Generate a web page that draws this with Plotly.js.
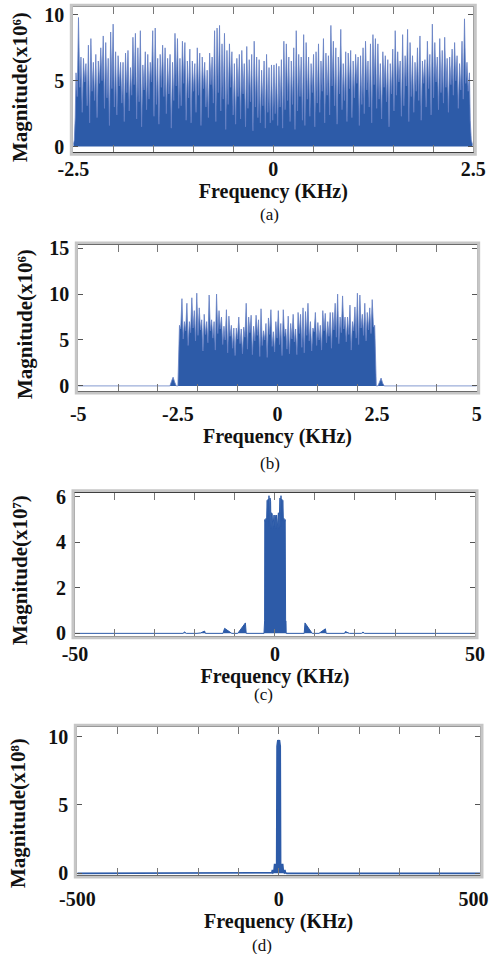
<!DOCTYPE html>
<html><head><meta charset="utf-8">
<script src="https://cdn.plot.ly/plotly-3.0.1.min.js"></script>
<style>html,body{margin:0;padding:0;background:#fff}#chart{width:493px;height:954px}</style>
</head><body><div id="chart"></div>
<script>
// ---------- Panel (a): baseband spectrum, x10^6 ----------
const aLeadFreq = [-2.5, -2.488, -2.476];
const aLeadMag  = [0.15, 0.5, 2.2];
const aBandRange = [-2.466, 2.452];
const aPeaks = [5.6, 9.8, 6.8, 6.7, 6.3, 7.7, 8.2, 6.4, 7.0, 6.5,
  7.5, 8.4, 7.9, 6.7, 8.7, 9.3, 7.2, 6.9, 6.4, 6.4,
  7.1, 7.3, 6.0, 8.3, 8.6, 7.5, 8.8, 6.2, 7.2, 7.0,
  6.4, 8.8, 9.0, 6.7, 7.0, 7.7, 7.5, 6.7, 7.0, 6.4,
  8.6, 8.2, 6.7, 8.0, 7.9, 6.5, 7.4, 6.5, 6.3, 7.5,
  7.1, 6.8, 6.4, 5.8, 7.1, 6.8, 8.8, 9.0, 9.2, 7.8,
  8.6, 7.3, 7.8, 7.2, 6.3, 6.7, 7.0, 7.3, 6.3, 7.6,
  6.6, 7.0, 8.0, 6.8, 6.6, 5.8, 6.5, 7.0, 6.0, 6.2,
  6.2,
  6.3, 6.1, 6.6, 8.0, 7.8, 6.8, 6.5, 7.5, 8.8, 7.0,
  6.8, 8.5, 7.9, 6.8, 6.3, 7.0, 7.2, 7.8, 6.5, 8.2,
  7.1, 6.9, 9.2, 8.0, 7.5, 6.8, 8.9, 6.3, 7.2, 7.1,
  7.3, 6.5, 7.0, 6.8, 6.9, 7.5, 8.0, 6.5, 7.8, 8.5,
  8.2, 7.8, 6.3, 7.2, 6.9, 6.6, 6.3, 7.4, 8.8, 7.2,
  6.5, 8.5, 6.9, 8.9, 7.9, 6.9, 6.4, 7.5, 8.4, 6.5,
  6.6, 8.0, 7.0, 9.3, 7.9, 6.8, 8.2, 7.3, 8.3, 6.7,
  6.8, 7.4, 7.9, 6.9, 6.3, 8.0, 9.7, 6.4, 5.6];
const aTroughs = [3.8, 4.5, 2.6, 4.9, 3.1, 1.8, 4.2, 3.5, 2.2, 4.8,
  5.0, 2.9, 3.7, 1.6, 4.4, 3.0, 2.4, 4.6, 3.3, 1.9,
  4.1, 2.7, 3.9, 4.7, 2.1, 3.4, 1.5, 4.3, 2.8, 3.6,
  4.9, 2.3, 3.2, 1.7, 4.5, 3.8, 2.5, 4.0, 1.4, 3.5,
  4.6, 2.9, 3.1, 4.8, 2.0, 3.7, 1.8, 4.2, 2.6, 3.9,
  1.6, 4.4, 3.0, 2.2, 4.7, 3.3, 1.9, 4.1, 2.7, 3.6,
  1.3, 3.2, 4.5, 2.4, 1.7, 3.8, 2.1, 4.0, 1.5, 2.9,
  3.4, 1.2, 3.0, 2.2, 1.8, 3.1, 1.4, 2.6, 1.8, 2.0,
  2.5, 1.6, 3.0, 1.4, 2.8, 3.5, 1.9, 3.2, 1.3, 2.7,
  3.8, 2.0, 1.6, 3.6, 2.3, 4.1, 1.5, 3.3, 2.6, 4.2,
  1.8, 3.9, 2.4, 4.6, 3.1, 1.7, 4.0, 2.8, 3.5, 1.9,
  4.4, 2.2, 3.7, 4.8, 1.6, 3.2, 2.5, 4.3, 3.0, 1.8,
  4.7, 2.9, 3.6, 2.1, 4.5, 3.4, 1.5, 4.0, 2.7, 3.9,
  4.9, 2.3, 3.1, 4.6, 1.9, 3.8, 2.6, 4.2, 3.5, 2.0,
  4.8, 3.0, 4.4, 2.4, 3.7, 4.9, 2.8, 4.1, 3.3, 4.5,
  2.6, 4.7, 3.9, 5.0, 2.9, 4.3, 3.6, 4.8, 4.2];
const aTailFreq = [2.462, 2.475, 2.49];
const aTailMag  = [2.0, 0.5, 0.15];

// ---------- Panel (b): spectrum x10^6, wider span ----------
const bLeadFreq = [-5, -2.7, -2.66, -2.62, -2.58, -2.54, -2.5];
const bLeadMag  = [0, 0, 0.5, 0.95, 0.4, 0, 0];
const bBandRange = [-2.46, 2.44];
const bPeaks = [6.6, 9.5, 7.0, 9.0, 7.0, 9.6, 8.2, 10.1, 8.5, 7.2,
  7.8, 7.0, 9.9, 7.2, 7.0, 10.0, 8.2, 7.5, 6.5, 8.3,
  7.6, 6.6, 6.3, 6.3, 7.5, 6.2, 6.4, 9.0, 7.5, 7.7,
  6.5, 7.7, 7.2, 8.4, 6.0, 6.8, 7.4, 8.3, 5.9, 7.0,
  8.2, 6.8, 8.3, 6.2, 7.6, 6.8, 7.8, 6.2, 8.0, 7.8,
  8.5, 8.1, 9.0, 7.0, 6.3, 8.0, 6.9, 6.6, 8.2, 7.9,
  7.0, 8.0, 8.0, 9.0, 10.0, 7.5, 9.8, 7.5, 7.5, 8.8,
  7.0, 8.6, 10.1, 9.9, 7.8, 9.0, 8.0, 8.5, 9.4, 6.6];
const bTroughs = [6.2, 5.1, 6.0, 4.4, 5.8, 6.3, 4.9, 5.5, 6.1, 3.8,
  5.6, 4.7, 6.0, 5.2, 3.9, 5.7, 6.2, 4.5, 5.0, 3.6,
  5.4, 4.1, 3.3, 5.1, 4.6, 3.5, 5.3, 4.0, 5.8, 3.4,
  4.9, 5.5, 3.2, 4.4, 5.0, 3.1, 5.6, 4.3, 3.7, 5.2,
  4.5, 3.3, 5.4, 4.0, 3.5, 5.1, 4.8, 3.4, 5.7, 4.2,
  3.6, 5.5, 4.9, 3.8, 5.9, 4.4, 5.0, 3.9, 6.0, 4.7,
  5.4, 4.1, 6.1, 5.3, 4.6, 5.8, 6.2, 4.8, 5.6, 3.9,
  6.0, 5.2, 4.5, 6.3, 5.5, 4.9, 6.1, 5.7, 6.4];
const bTailFreq = [2.48, 2.52, 2.56, 2.6, 2.64, 2.68, 5];
const bTailMag  = [0, 0, 0.4, 0.85, 0.3, 0, 0];

// ---------- Panel (c): spectrum x10^7 ----------
const cFreq = [-50, -23, -22.6, -22.2, -19.5, -18.6, -17.6, -17.4, -13, -12.6, -10.8, -9.3, -7.4, -7.2,
  -2.75, -2.7, -2.6, -2.55, -2.4, -2.25, -2.1, -1.95, -1.85, -1.7, -1.6, -1.5, -1.4, -1.25, -1.1,
  -1.0, -0.85, -0.7, -0.55, -0.4, -0.25, -0.1, 0, 0.1, 0.25, 0.4, 0.55, 0.7, 0.85, 1.0,
  1.1, 1.25, 1.4, 1.5, 1.6, 1.7, 1.85, 1.95, 2.1, 2.25, 2.4, 2.55, 2.65, 2.75, 2.8,
  7.3, 7.5, 9.3, 11, 12.6, 12.8, 17.4, 17.6, 18.6, 21.6, 22, 22.4, 50];
const cMag = [0, 0, 0.06, 0, 0, 0.02, 0.1, 0, 0, 0.22, 0, 0, 0.46, 0,
  0, 0.55, 0.55, 5.0, 4.9, 5.05, 4.95, 5.85, 4.9, 5.9, 5.2, 6.05, 4.7, 5.95, 5.8,
  4.6, 5.3, 5.25, 4.6, 5.1, 5.2, 4.7, 5.2, 5.15, 4.6, 5.2, 4.6, 5.25, 5.3, 4.6,
  5.8, 5.95, 4.7, 6.05, 5.2, 5.9, 4.9, 5.85, 4.95, 5.05, 4.9, 5.0, 0.55, 0.55, 0,
  0, 0.46, 0, 0, 0.2, 0, 0, 0.08, 0, 0, 0.06, 0, 0];

// ---------- Panel (d): spectrum x10^8 ----------
const dFreq = [-500, -20, -17, -15.5, -14, -12, -10, -8, -6.5, -5, -4, -2, 0, 2, 4, 5, 6.5, 8, 10, 12, 14, 15.5, 17, 20, 500];
const dMag  = [0, 0, 0.05, 0.25, 0.05, 0.1, 0.7, 0.4, 0.7, 0.1, 9.3, 9.75, 9.6, 9.75, 9.3, 0.1, 0.7, 0.4, 0.7, 0.1, 0.05, 0.25, 0.05, 0, 0];

// ---------- axis tick labels ----------
const aTickLabels = [-2.5, 0, 2.5], aTickMarks = [-2, -1.5, -1, -0.5, 0, 0.5, 1, 1.5, 2];
const bTickLabels = [-5, -2.5, 0, 2.5, 5], bTickMarks = [-4, -3, -2, -1, 0, 1, 2, 3, 4];
const cTickLabels = [-50, 0, 50], cTickMarks = [-40, -30, -20, -10, 0, 10, 20, 30, 40];
const dTickLabels = [-500, 0, 500], dTickMarks = [-400, -300, -200, -100, 0, 100, 200, 300, 400];
// the reference prints the right-most "500" label pulled in from the frame edge
const dLabelAt = [-500, 0, 484];
const aYTicks = [0, 5, 10], bYTicks = [0, 5, 10, 15], cYTicks = [0, 2, 4, 6], dYTicks = [0, 5, 10];
const yTitles = ['Magnitude(x10⁶)', 'Magnitude(x10⁶)', 'Magnitude(x10⁷)', 'Magnitude(x10⁸)'];
const captions = ['(a)', '(b)', '(c)', '(d)'];
const xTitle = 'Frequency (KHz)';

// ---------- build band series ----------
function band(lf, lm, range, peaks, troughs, tf, tm) {
  const mags = [];
  for (let i = 0; i < peaks.length; i++) {
    mags.push(peaks[i]);
    if (i < troughs.length) mags.push(troughs[i]);
  }
  const n = mags.length, step = (range[1] - range[0]) / (n - 1);
  const fr = mags.map((_, i) => range[0] + i * step);
  return {x: lf.concat(fr, tf), y: lm.concat(mags, tm)};
}
const A = band(aLeadFreq, aLeadMag, aBandRange, aPeaks, aTroughs, aTailFreq, aTailMag);
const B = band(bLeadFreq, bLeadMag, bBandRange, bPeaks, bTroughs, bTailFreq, bTailMag);

const BLUE = '#2d5ba8', SPIKE = '#6680c4';
const data = [
  {x: A.x, y: A.y, xaxis: 'x', yaxis: 'y', type: 'scatter', mode: 'lines', fill: 'tozeroy', fillcolor: BLUE, line: {color: SPIKE, width: 0.8}, hoverinfo: 'skip'},
  {x: B.x, y: B.y, xaxis: 'x2', yaxis: 'y2', type: 'scatter', mode: 'lines', fill: 'tozeroy', fillcolor: BLUE, line: {color: SPIKE, width: 0.8}, hoverinfo: 'skip'},
  {x: cFreq, y: cMag, xaxis: 'x3', yaxis: 'y3', type: 'scatter', mode: 'lines', fill: 'tozeroy', fillcolor: BLUE, line: {color: BLUE, width: 1}, hoverinfo: 'skip'},
  {x: dFreq, y: dMag, xaxis: 'x4', yaxis: 'y4', type: 'scatter', mode: 'lines', fill: 'tozeroy', fillcolor: BLUE, line: {color: BLUE, width: 1.6}, hoverinfo: 'skip'},
  {x: [], y: [], xaxis: 'x5', yaxis: 'y', type: 'scatter', showlegend: false},
  {x: [], y: [], xaxis: 'x6', yaxis: 'y2', type: 'scatter', showlegend: false},
  {x: [], y: [], xaxis: 'x7', yaxis: 'y3', type: 'scatter', showlegend: false},
  {x: [], y: [], xaxis: 'x8', yaxis: 'y4', type: 'scatter', showlegend: false}
];

const W = 493, H = 954;
const panels = [
  {xd: [0.1487, 0.9600], yd: [0.8404, 0.9924], xr: [-2.5, 2.5], yr: [-0.43, 10.58], lab: aTickLabels, at: aTickLabels, marks: aTickMarks, yt: aYTicks, xso: 3, cap: [269, 214], ytp: [20, 87]},
  {xd: [0.1588, 0.9669], yd: [0.5902, 0.7432], xr: [-5, 5], yr: [-0.55, 15.35], lab: bTickLabels, at: bTickLabels, marks: bTickMarks, yt: bYTicks, xso: 9, cap: [270, 463], ytp: [25, 324]},
  {xd: [0.1521, 0.9635], yd: [0.3337, 0.4835], xr: [-50, 50], yr: [-0.1, 6.18], lab: cTickLabels, at: cTickLabels, marks: cTickMarks, yt: cYTicks, xso: 4, cap: [263, 694], ytp: [20, 570]},
  {xd: [0.1568, 0.9736], yd: [0.0828, 0.2376], xr: [-500, 500], yr: [-0.12, 10.68], lab: dTickLabels, at: dLabelAt, marks: dTickMarks, yt: dYTicks, xso: 10, cap: [262, 945], ytp: [18, 813]}
];

const SERIF = 'Liberation Serif, Times New Roman, serif';
const tickFont = {family: SERIF, size: 20, color: '#111', weight: 'bold'};
const xTitleFont = {family: SERIF, size: 20, color: '#111', weight: 'bold'};
const yTitleFont = {family: SERIF, size: 21, color: '#111', weight: 'bold'};

const layout = {
  width: W, height: H, margin: {l: 0, r: 0, t: 0, b: 0},
  paper_bgcolor: '#fff', plot_bgcolor: '#fff', showlegend: false,
  shapes: [], annotations: []
};
const fmt = v => String(v);  // plain hyphen-minus as in the reference
panels.forEach((p, i) => {
  const n = i + 1, sx = n === 1 ? '' : String(n);
  const xo = String(n + 4);
  layout['xaxis' + sx] = {
    domain: p.xd, range: p.xr, anchor: 'y' + sx, tickvals: p.at, ticktext: p.lab.map(fmt), ticks: '', showline: false,
    zeroline: false, showgrid: false, tickfont: tickFont, ticklabelstandoff: p.xso,
    ticklabeloverflow: 'allow', title: {text: xTitle, font: xTitleFont, standoff: 0}, fixedrange: true
  };
  layout['xaxis' + xo] = {
    overlaying: 'x' + sx, anchor: 'y' + sx, range: p.xr, tickvals: p.marks, ticks: 'inside', ticklen: 7,
    tickcolor: '#777', tickwidth: 1, showticklabels: false, showline: true, linecolor: '#111', linewidth: 1.2,
    mirror: 'allticks', zeroline: false, showgrid: false, fixedrange: true
  };
  layout['yaxis' + sx] = {
    domain: p.yd, range: p.yr, anchor: 'x' + sx, tickvals: p.yt, ticks: 'inside', ticklen: 5,
    tickcolor: '#555', showline: true, linecolor: '#9a9a9a', linewidth: 1, mirror: 'ticks',
    zeroline: false, showgrid: false, tickfont: tickFont, ticklabelstandoff: 4, fixedrange: true
  };
  const dx = 2 / W, dy = 2 / H;
  layout.shapes.push({type: 'rect', xref: 'paper', yref: 'paper',
    x0: p.xd[0] - dx, x1: p.xd[1] + dx, y0: p.yd[0] - dy, y1: p.yd[1] + dy,
    line: {color: '#c6c6c6', width: 3}, fillcolor: 'rgba(0,0,0,0)', layer: 'above'});
  layout.annotations.push({text: yTitles[i], xref: 'paper', yref: 'paper', x: p.ytp[0] / W, y: 1 - p.ytp[1] / H,
    xanchor: 'center', yanchor: 'middle', textangle: -90, showarrow: false, font: yTitleFont});
  layout.annotations.push({text: captions[i], xref: 'paper', yref: 'paper', x: p.cap[0] / W, y: 1 - p.cap[1] / H,
    xanchor: 'center', yanchor: 'middle', showarrow: false, font: {family: SERIF, size: 17, color: '#111'}});
});

Plotly.newPlot('chart', data, layout, {displayModeBar: false, staticPlot: true});
</script></body></html>
